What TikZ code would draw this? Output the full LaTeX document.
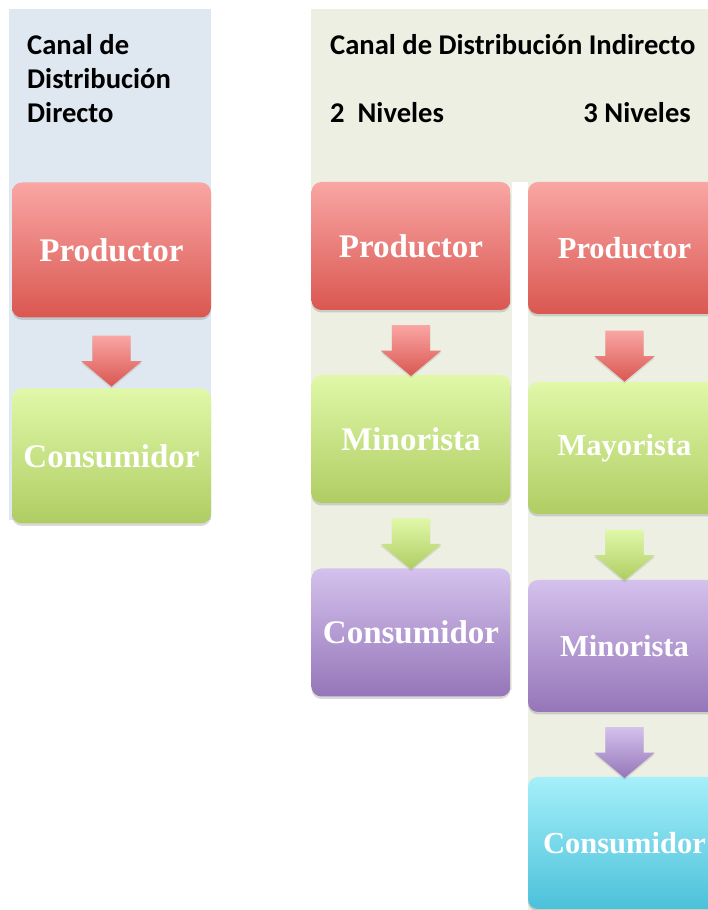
\documentclass[tikz,border=0pt]{standalone}
\usepackage{fontspec}
\newfontfamily\headfont{Carlito}
\newfontfamily\boxfont{Liberation Serif}
\usepackage{tikz}
\usetikzlibrary{calc}
\usetikzlibrary{shapes.arrows}
\usetikzlibrary{shadows}
\definecolor{dirbg}{HTML}{DFE7F0}
\definecolor{indbg}{HTML}{ECEFE2}
\definecolor{redtop}{HTML}{F9A6A4}
\definecolor{redbot}{HTML}{DA5751}
\definecolor{grntop}{HTML}{E0F8A8}
\definecolor{grnbot}{HTML}{AFCD63}
\definecolor{purtop}{HTML}{D4C1EC}
\definecolor{purbot}{HTML}{9576B9}
\definecolor{cyntop}{HTML}{A5EFFA}
\definecolor{cynbot}{HTML}{4BC1DA}

\begin{document}
\begin{tikzpicture}[x=1pt,y=1pt,
  box/.style={rectangle,rounded corners=10pt,minimum width=199pt,minimum height=132pt,inner sep=0pt,
    font=\boxfont\bfseries\fontsize{33}{38}\selectfont,text=white,
    drop shadow={shadow xshift=0pt,shadow yshift=-2.5pt,opacity=.3}},
  small/.style={minimum width=193pt,font=\boxfont\bfseries\fontsize{30.5}{36}\selectfont},
  redbox/.style={box,top color=redtop,bottom color=redbot},
  grnbox/.style={box,top color=grntop,bottom color=grnbot},
  purbox/.style={box,top color=purtop,bottom color=purbot},
  cynbox/.style={box,top color=cyntop,bottom color=cynbot},
  down/.style={single arrow,shape border rotate=270,minimum height=51pt,
    inner xsep=19pt,inner ysep=0pt,
    single arrow head extend=11pt,single arrow tip angle=100,
    drop shadow={shadow xshift=0pt,shadow yshift=-2pt,opacity=.2}},
  head/.style={font=\headfont\bfseries\fontsize{28.6}{34}\selectfont,inner sep=0pt,anchor=base west}]
\useasboundingbox (0,0) rectangle (708,910);
\clip (0,0) rectangle (708,910);
% backgrounds
\fill[dirbg] (9,901) rectangle (211,390);
\fill[indbg] (311,901) rectangle (708,728);
\fill[indbg] (311,728) rectangle (512,220);
\fill[indbg] (528,728) rectangle (708,0);
%
\node[head] (tdira) at (27,855) {Canal de};
\node[head] (tdirb) at (27,821) {Distribución};
\node[head] (tdirc) at (27,787) {Directo};
\node[head] (tind) at (330,855) {Canal de Distribución Indirecto};
\node[head] (tniva) at (330,787) {2\ \ Niveles};
\node[head,anchor=base east] (tnivb) at (691,787) {3 Niveles};
%
% directo
\node[redbox,minimum height=135pt] (dprod) at (111.5,660) {Productor};
\node[grnbox,minimum height=135pt] (dcons) at (111.5,454) {Consumidor};
\node[down,top color=redtop,bottom color=redbot] (da) at ($(dprod.south)!0.5!(dcons.north)$) {};
%
% 2 niveles
\node[redbox,minimum height=128pt] (mprod) at (411,664) {Productor};
\node[grnbox,minimum height=128pt] (mmin) at (411,471) {Minorista};
\node[purbox,minimum height=128pt] (mcons) at (411,277.5) {Consumidor};
\node[down,top color=redtop,bottom color=redbot] (maa) at ($(mprod.south)!0.5!(mmin.north)$) {};
\node[down,top color=grntop,bottom color=grnbot] (mab) at ($(mmin.south)!0.5!(mcons.north)$) {};
%
% 3 niveles
\node[redbox,small] (rprod) at (624.5,662) {Productor};
\node[grnbox,small] (rmay) at (624.5,462) {Mayorista};
\node[purbox,small] (rmin) at (624.5,264) {Minorista};
\node[cynbox,small] (rcons) at (624.5,67) {Consumidor};
\node[down,top color=redtop,bottom color=redbot] (raa) at ($(rprod.south)!0.5!(rmay.north)$) {};
\node[down,top color=grntop,bottom color=grnbot] (rab) at ($(rmay.south)!0.5!(rmin.north)$) {};
\node[down,top color=purtop,bottom color=purbot] (rac) at ($(rmin.south)!0.5!(rcons.north)$) {};
\end{tikzpicture}
\end{document}
